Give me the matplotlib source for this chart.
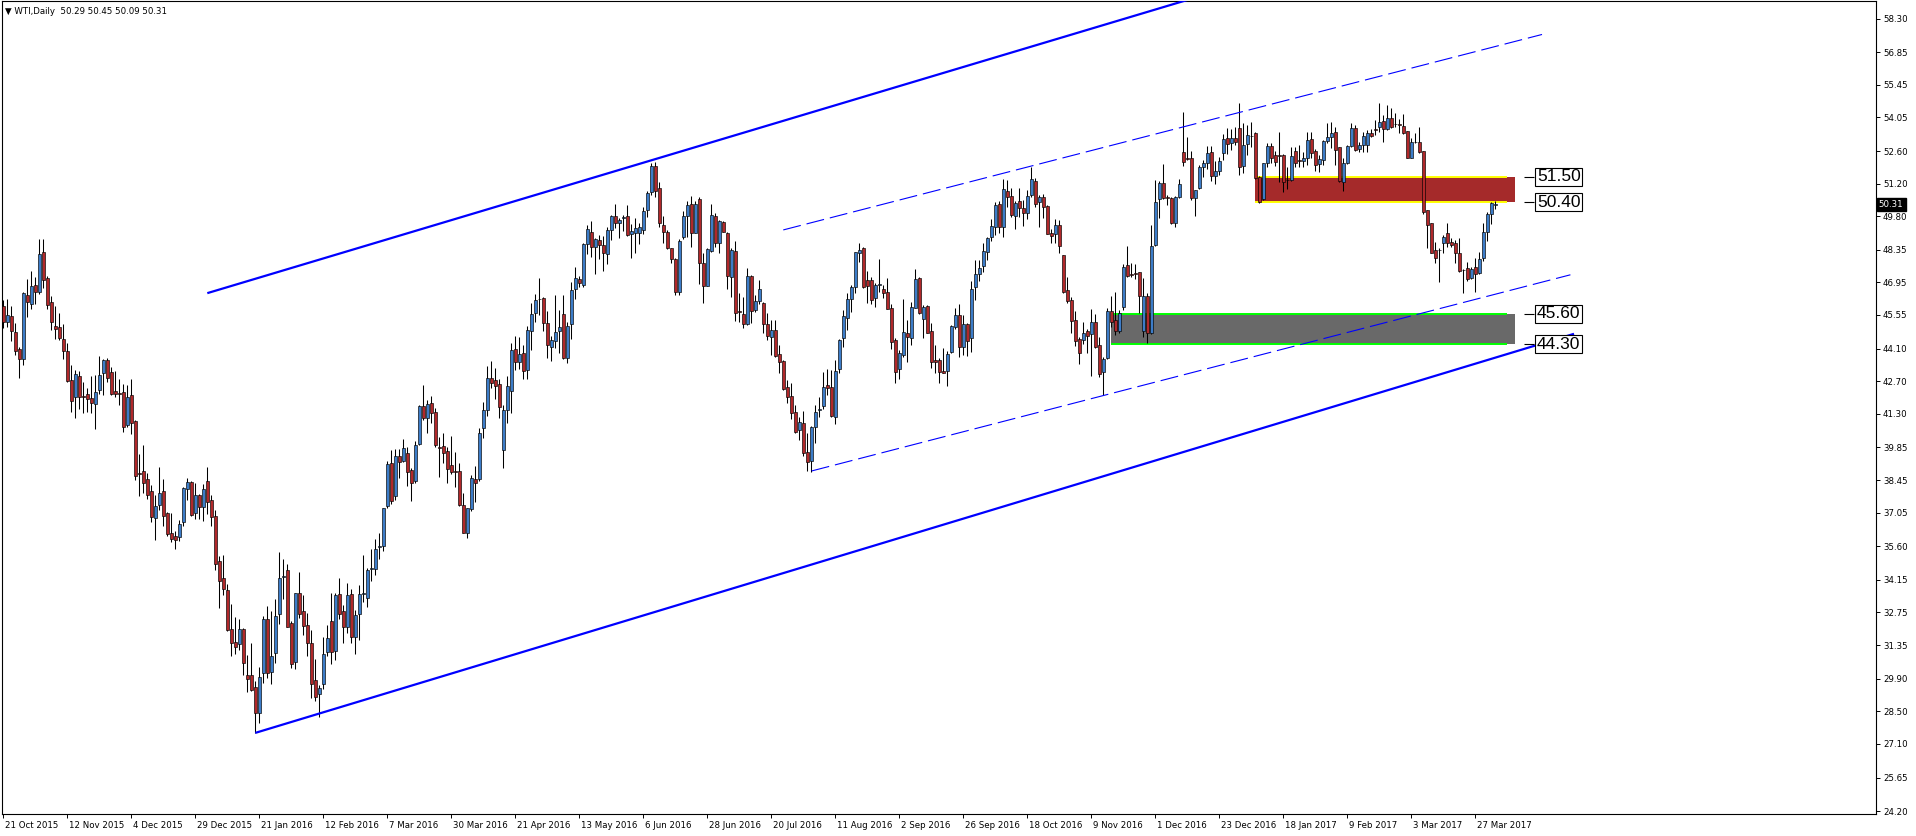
import matplotlib
matplotlib.use("Agg")
import matplotlib.pyplot as plt
import matplotlib.transforms as mtransforms
from matplotlib.patches import Rectangle
import numpy as np

plt.rcParams['font.family'] = ['DejaVu Sans']
plt.rcParams['lines.scale_dashes'] = False

# ---------------- data ----------------
header = "\u25BC WTI,Daily  50.29 50.45 50.09 50.31"

opens = [
    45.94, 45.27, 45.49, 44.83, 44.09, 43.67, 46.41, 46.01, 46.83, 46.56,
    48.26, 47.15, 46.12, 45.08, 45.02, 44.50, 44.01, 42.75, 42.01, 42.93,
    42.06, 42.13, 41.98, 41.72, 42.31, 43.05, 43.60, 43.08, 42.28, 42.19,
    42.24, 40.83, 42.12, 41.00, 38.75, 38.83, 38.50, 37.98, 36.80, 37.38,
    37.97, 37.05, 36.16, 36.04, 36.01, 36.64, 38.06, 38.35, 37.02, 37.79,
    37.27, 38.41, 37.57, 36.90, 34.98, 34.24, 33.72, 32.05, 31.50, 31.39,
    32.05, 30.06, 30.06, 29.54,
    28.44, 30.13, 32.45, 30.20, 30.99, 32.67, 34.26, 34.58, 32.28, 30.63,
    33.57, 32.81, 32.21, 31.42, 29.84, 29.23, 29.66, 31.06, 32.38, 31.10,
    33.54, 32.81, 32.11, 33.54, 31.68, 32.67, 33.53, 33.39, 34.61, 34.61,
    35.55, 35.62, 37.35, 39.19, 37.76, 39.48, 39.28, 39.60, 38.88, 38.42,
    40.00, 41.63, 41.10, 41.78, 41.36, 39.87, 39.91, 39.70, 39.09, 38.82,
    38.84, 37.37, 36.15, 37.19, 38.48, 38.48, 40.67, 41.46, 42.82, 42.75,
    42.58, 39.74, 41.46,
    42.29, 44.07, 43.54, 43.93, 43.18, 44.87, 45.62, 46.22, 46.27, 45.19,
    44.19, 44.45, 44.87, 45.59, 43.69, 45.15, 46.65, 47.08, 46.84, 48.59,
    49.11, 48.46, 48.78, 48.55, 48.16, 49.21, 49.81, 49.52, 49.74, 49.81,
    49.02, 49.06, 49.06, 49.21, 50.07, 50.83, 51.96, 51.00, 49.42, 49.11,
    48.42, 47.94, 46.52, 48.92, 49.82, 50.31, 49.09, 50.53, 47.77, 46.81,
    48.32, 49.81, 48.66, 49.54, 49.06, 47.20, 48.30, 45.72, 45.59, 45.15,
    47.23, 45.77, 46.17,
    46.05, 45.16, 44.62, 44.90, 43.87, 43.57, 42.47, 42.06, 41.36, 40.60,
    40.89, 39.64, 39.28, 40.74, 41.48, 41.65, 42.54, 42.44, 41.17, 43.23,
    44.55, 45.41, 46.22, 46.77, 48.20, 48.42, 47.06, 47.06, 46.27, 46.84,
    46.67, 46.53, 45.84, 44.47, 43.21, 43.83, 44.76, 44.57, 45.86, 47.13,
    45.38, 45.94, 44.86, 43.61, 43.61, 43.15, 43.15, 43.94, 45.05, 45.55,
    44.16, 45.16, 44.55, 46.77, 47.31, 47.67, 48.27, 48.92, 49.32, 50.31,
    49.32, 50.90,
    50.67, 49.81, 50.45, 50.14, 49.95, 50.71, 51.32, 50.40, 50.61, 50.24,
    49.06, 49.02, 49.42, 48.13, 46.62, 46.19, 45.33, 44.52, 44.47, 44.87,
    44.72, 45.24, 44.26, 43.11, 43.68, 45.72, 45.33, 44.87, 45.91, 47.70,
    47.31, 47.36, 47.39, 44.87, 46.37, 44.76, 48.56, 50.53, 51.21, 50.63,
    50.57, 49.52, 50.61, 52.55, 52.31, 52.29, 50.60, 51.00, 51.90, 52.10,
    52.58, 51.54, 51.76, 52.51, 53.15, 52.94, 53.15, 53.58, 51.96, 52.89,
    53.27, 53.40,
    51.47, 50.53, 52.08, 52.82, 52.43, 52.43, 52.43, 51.35, 51.36, 52.61,
    52.20, 52.19, 52.29, 53.11, 52.61, 52.05, 52.22, 53.05, 53.19, 53.41,
    52.76, 51.29, 52.08, 52.82, 53.58, 52.69, 52.87, 52.87, 53.40, 53.55,
    53.62, 53.90, 53.54, 54.01, 53.78, 53.77, 53.68, 53.47, 52.32, 53.01,
    52.98, 52.61, 50.07, 49.49, 48.35, 48.36, 48.63, 49.06, 48.70, 48.63,
    48.23, 47.50, 47.56, 47.13, 47.60, 47.37, 47.99, 49.14, 49.88, 50.29,
]

highs = [
    46.20, 46.23, 45.94, 45.20, 44.19, 46.53, 47.09, 47.45, 47.20, 48.83,
    48.83, 47.24, 46.35, 45.94, 45.64, 45.17, 44.34, 43.39, 43.17, 43.12,
    42.68, 42.43, 42.93, 42.98, 43.79, 43.64, 43.69, 43.30, 43.12, 42.80,
    42.56, 42.53, 42.80, 41.05, 39.57, 39.97, 38.75, 38.24, 37.79, 39.02,
    38.50, 37.08, 37.02, 36.24, 36.71, 38.16, 38.53, 38.41, 38.31, 37.84,
    38.27, 39.02, 37.79, 37.15, 35.20, 35.23, 33.97, 33.13, 32.56, 32.46,
    32.09, 30.91, 31.42, 29.79,
    30.42, 32.60, 33.03, 32.81, 33.32, 35.34, 35.05, 34.82, 32.38, 33.60,
    34.48, 33.50, 32.71, 31.99, 30.73, 29.63, 31.68, 32.21, 33.60, 33.57,
    34.25, 33.07, 34.00, 33.78, 32.86, 33.93, 35.22, 34.68, 35.47, 35.91,
    36.15, 37.26, 39.27, 39.74, 39.77, 39.77, 40.21, 39.86, 38.98, 40.13,
    41.68, 42.54, 41.89, 42.06, 41.53, 40.31, 40.46, 39.86, 40.34, 39.64,
    39.17, 37.90, 37.26, 38.66, 39.05, 40.67, 41.82, 43.36, 43.57, 43.26,
    42.78, 41.68, 42.92,
    44.33, 44.65, 44.62, 44.26, 45.08, 46.05, 46.45, 47.16, 46.31, 45.72,
    44.65, 46.41, 45.76, 46.41, 45.26, 46.96, 47.63, 47.23, 48.63, 49.42,
    49.61, 48.85, 48.99, 48.95, 49.32, 49.85, 50.33, 49.71, 49.85, 50.28,
    49.46, 49.71, 49.49, 50.21, 50.89, 52.08, 52.15, 51.29, 49.81, 49.21,
    48.45, 47.99, 48.82, 50.04, 50.47, 50.67, 50.45, 50.64, 48.20, 48.42,
    50.33, 49.96, 49.64, 49.59, 49.11, 48.42, 48.73, 46.48, 46.34, 47.59,
    47.27, 46.41, 47.06,
    46.12, 45.62, 45.33, 45.33, 44.26, 43.61, 42.75, 42.61, 41.68, 41.17,
    41.42, 40.46, 40.77, 41.68, 42.04, 43.08, 43.22, 43.18, 43.61, 44.50,
    45.76, 46.48, 46.84, 48.27, 48.63, 48.46, 47.44, 47.20, 46.94, 47.96,
    46.84, 47.13, 46.02, 44.55, 44.04, 46.22, 45.33, 46.12, 47.53, 47.17,
    45.98, 45.98, 45.19, 44.26, 43.68, 44.11, 44.01, 45.12, 45.84, 46.02,
    45.55, 45.19, 47.03, 47.92, 47.92, 48.66, 48.92, 49.67, 50.43, 50.47,
    51.39, 51.36,
    51.00, 50.45, 51.00, 50.50, 50.93, 51.93, 51.43, 50.71, 50.74, 50.28,
    49.24, 49.67, 49.64, 48.13, 47.17, 46.34, 45.74, 44.62, 45.26, 44.93,
    45.81, 45.59, 44.59, 43.76, 45.86, 46.38, 46.52, 45.76, 47.74, 48.53,
    47.77, 47.73, 47.41, 47.13, 46.48, 49.42, 51.36, 51.33, 52.05, 50.71,
    50.64, 50.67, 51.39, 54.27, 53.22, 52.62, 50.93, 52.00, 52.22, 52.82,
    52.82, 52.18, 52.36, 53.34, 53.61, 53.54, 53.65, 54.66, 53.82, 53.73,
    53.87, 53.44,
    51.53, 52.10, 52.94, 52.94, 52.61, 53.44, 52.46, 51.93, 52.79, 52.79,
    52.86, 52.58, 53.44, 53.44, 52.68, 52.43, 53.08, 53.82, 53.84, 53.65,
    52.79, 52.29, 52.86, 53.82, 53.73, 53.01, 53.41, 53.51, 53.54, 53.94,
    54.66, 54.16, 54.59, 54.44, 54.26, 53.97, 54.20, 53.48, 53.15, 53.37,
    53.62, 52.61, 50.07, 49.52, 48.71, 48.42, 48.99, 49.52, 48.85, 48.78,
    48.85, 47.51, 47.84, 47.63, 47.99, 48.27, 49.49, 50.00, 50.43, 50.45,
]

lows = [
    44.97, 45.02, 44.43, 43.83, 42.86, 43.38, 45.46, 45.82, 46.01, 46.46,
    46.71, 45.79, 44.90, 44.53, 44.49, 43.64, 42.65, 41.39, 41.12, 41.52,
    41.32, 41.39, 41.35, 40.64, 42.16, 42.12, 42.65, 42.09, 42.01, 41.69,
    40.50, 40.75, 40.43, 38.46, 37.75, 37.87, 37.64, 36.65, 35.87, 37.15,
    36.46, 36.06, 35.79, 35.47, 35.84, 36.46, 37.61, 36.90, 36.79, 36.79,
    36.68, 36.98, 36.46, 34.58, 32.93, 33.50, 31.94, 30.86, 30.95, 31.13,
    30.06, 29.35, 29.38, 27.57,
    28.01, 29.73, 29.94, 29.66, 30.59, 32.24, 33.33, 32.11, 30.37, 30.32,
    32.50, 31.78, 30.88, 29.08, 28.95, 28.27, 29.44, 30.88, 30.52, 30.70,
    32.47, 31.45, 31.85, 31.45, 30.95, 31.56, 33.21, 33.00, 34.12, 34.36,
    35.04, 35.41, 37.26, 37.40, 37.59, 38.52, 39.24, 38.21, 37.56, 38.31,
    39.96, 41.03, 40.49, 40.92, 39.88, 38.59, 39.20, 38.33, 38.69, 38.16,
    37.35, 36.15, 35.97, 37.13, 37.52, 38.41, 40.24, 41.22, 42.42, 41.94,
    41.13, 38.98, 40.92,
    41.35, 43.18, 43.21, 42.80, 42.78, 44.04, 45.26, 45.55, 44.87, 43.71,
    43.58, 44.11, 43.93, 43.66, 43.47, 44.50, 46.22, 46.77, 46.77, 48.16,
    48.06, 47.30, 47.96, 47.46, 47.73, 48.78, 49.28, 48.85, 49.18, 48.95,
    47.99, 48.20, 48.59, 49.03, 49.75, 50.71, 50.64, 49.32, 48.63, 48.38,
    47.77, 46.41, 46.41, 48.81, 48.92, 48.49, 49.09, 46.88, 46.05, 46.81,
    48.27, 48.49, 48.23, 49.11, 46.67, 46.34, 45.29, 45.26, 44.98, 45.12,
    45.19, 45.69, 46.02,
    44.79, 44.47, 43.83, 43.76, 43.04, 42.32, 41.78, 41.06, 40.49, 40.17,
    39.50, 38.84, 38.81, 40.03, 41.17, 41.49, 42.11, 41.17, 40.84, 43.07,
    44.19, 44.90, 45.69, 46.51, 47.84, 46.73, 46.05, 46.02, 45.91, 46.55,
    46.30, 45.79, 44.09, 42.64, 42.80, 43.76, 43.54, 44.26, 45.84, 45.59,
    44.57, 44.76, 43.25, 43.07, 42.64, 43.04, 42.51, 43.90, 44.93, 43.73,
    43.83, 43.79, 43.94, 46.20, 47.03, 47.41, 47.92, 48.75, 48.99, 49.06,
    48.92, 50.21,
    49.78, 49.24, 49.78, 49.38, 49.67, 50.61, 50.21, 49.35, 49.74, 49.03,
    48.63, 48.63, 48.20, 46.48, 46.05, 44.79, 44.22, 43.43, 44.29, 43.90,
    42.94, 44.14, 42.90, 42.11, 43.64, 45.05, 44.69, 44.79, 45.76, 47.17,
    47.17, 47.08, 45.65, 44.62, 44.36, 44.73, 48.52, 49.74, 50.53, 50.28,
    49.47, 49.32, 50.57, 51.96, 52.22, 50.50, 49.82, 50.96, 51.47, 51.83,
    51.33, 51.17, 51.57, 52.22, 52.48, 52.65, 52.86, 51.57, 51.65, 52.43,
    52.79, 51.39,
    50.38, 50.50, 51.90, 52.10, 51.96, 51.29, 50.86, 50.96, 51.33, 51.90,
    51.90, 51.93, 52.00, 52.29, 51.75, 51.72, 52.00, 52.94, 52.72, 52.00,
    51.29, 50.90, 52.05, 52.76, 52.62, 52.58, 52.58, 52.58, 53.22, 53.29,
    53.44, 53.01, 53.51, 53.61, 53.65, 53.37, 53.34, 52.29, 52.29, 52.94,
    52.51, 49.88, 48.42, 48.20, 47.80, 46.98, 48.20, 48.49, 48.49, 47.80,
    47.41, 46.48, 47.01, 47.08, 46.55, 47.31, 47.89, 48.75, 49.47, 50.09,
]

closes = [
    45.27, 45.54, 44.86, 43.98, 43.67, 46.49, 46.09, 46.80, 46.53, 48.16,
    47.05, 45.97, 45.27, 44.93, 44.57, 44.01, 42.71, 41.83, 43.01, 42.01,
    42.01, 41.94, 41.76, 42.24, 42.98, 43.60, 42.83, 42.13, 42.13, 42.16,
    40.75, 42.01, 40.90, 38.61, 38.73, 38.31, 37.79, 36.86, 37.35, 37.90,
    36.90, 36.12, 35.91, 35.87, 36.56, 38.09, 38.35, 36.95, 37.79, 37.27,
    38.06, 37.50, 36.87, 34.83, 34.09, 33.75, 31.99, 31.45, 31.28, 32.05,
    30.58, 29.87, 29.42, 28.43,
    29.96, 32.45, 30.13, 30.88, 32.60, 34.22, 34.32, 32.11, 30.52, 33.57,
    32.67, 32.18, 31.45, 29.66, 29.13, 29.48, 30.95, 31.64, 31.03, 33.50,
    32.68, 32.14, 33.50, 31.68, 32.64, 33.54, 33.57, 34.58, 34.65, 35.47,
    35.60, 37.23, 39.12, 37.56, 39.48, 39.24, 39.81, 38.81, 38.33, 39.96,
    41.63, 41.13, 41.72, 41.35, 39.96, 39.84, 39.62, 38.94, 38.81, 38.79,
    37.37, 36.18, 37.23, 38.52, 38.31, 40.46, 41.46, 42.82, 42.64, 42.51,
    41.60, 41.46, 42.49,
    44.04, 43.54, 43.86, 43.15, 44.90, 45.59, 46.19, 46.25, 45.19, 44.26,
    44.47, 44.80, 45.02, 43.69, 45.08, 46.63, 47.13, 46.91, 48.60, 49.24,
    48.46, 48.80, 48.56, 48.20, 49.21, 49.82, 49.49, 49.64, 49.77, 48.99,
    49.16, 49.28, 49.32, 50.02, 50.81, 51.96, 50.90, 49.49, 49.11, 48.42,
    47.94, 46.52, 48.73, 49.82, 50.27, 49.09, 50.31, 47.80, 46.81, 48.38,
    49.85, 48.66, 49.59, 49.14, 47.23, 48.35, 45.65, 45.69, 45.15, 47.23,
    45.74, 46.17, 46.65,
    45.15, 44.65, 44.90, 43.79, 43.54, 42.36, 42.04, 41.32, 40.53, 40.93,
    39.60, 39.24, 40.72, 41.39, 41.50, 42.47, 42.42, 41.22, 43.15, 44.47,
    45.51, 46.22, 46.77, 48.25, 48.35, 46.77, 46.80, 46.20, 46.84, 46.87,
    46.51, 45.81, 44.40, 43.11, 43.90, 44.83, 44.59, 45.88, 47.08, 45.65,
    45.88, 44.79, 43.54, 43.54, 43.11, 43.07, 43.87, 45.08, 45.55, 44.19,
    45.16, 44.44, 46.65, 47.31, 47.59, 48.30, 48.85, 49.38, 50.28, 49.35,
    50.96, 50.64,
    49.85, 50.35, 50.17, 49.95, 50.68, 51.39, 50.31, 50.61, 50.21, 49.03,
    48.96, 49.42, 48.53, 46.55, 46.17, 45.31, 44.45, 43.90, 44.79, 44.66,
    45.24, 44.16, 43.01, 43.66, 45.72, 45.24, 44.86, 45.62, 47.60, 47.23,
    47.29, 47.33, 46.37, 46.37, 44.76, 48.52, 50.40, 51.21, 50.57, 50.57,
    49.49, 50.64, 51.17, 52.15, 52.28, 50.60, 50.93, 51.90, 52.07, 52.51,
    51.54, 51.75, 52.18, 53.11, 52.89, 53.15, 53.01, 51.90, 52.86, 53.30,
    53.24, 51.43,
    50.40, 52.08, 52.82, 52.29, 52.15, 52.41, 51.29, 51.37, 52.39, 52.08,
    52.17, 52.29, 53.08, 52.53, 52.00, 52.26, 53.04, 53.22, 53.40, 52.65,
    51.33, 52.08, 52.82, 53.58, 52.65, 52.87, 53.25, 53.37, 53.25, 53.52,
    53.84, 53.54, 54.01, 53.62, 53.75, 53.71, 53.37, 52.32, 52.98, 52.98,
    52.58, 50.00, 49.42, 48.23, 47.99, 48.33, 48.89, 48.66, 48.56, 48.23,
    47.46, 47.47, 47.08, 47.53, 47.31, 47.94, 49.14, 49.88, 50.35, 50.31,
]

date_labels = [
    "21 Oct 2015", "12 Nov 2015", "4 Dec 2015", "29 Dec 2015", "21 Jan 2016",
    "12 Feb 2016", "7 Mar 2016", "30 Mar 2016", "21 Apr 2016", "13 May 2016",
    "6 Jun 2016", "28 Jun 2016", "20 Jul 2016", "11 Aug 2016", "2 Sep 2016",
    "26 Sep 2016", "18 Oct 2016", "9 Nov 2016", "1 Dec 2016", "23 Dec 2016",
    "18 Jan 2017", "9 Feb 2017", "3 Mar 2017", "27 Mar 2017",
]
bars_per_label = 16

price_ticks = [58.30, 56.85, 55.45, 54.05, 52.60, 51.20, 49.80, 48.35, 46.95,
               45.55, 44.10, 42.70, 41.30, 39.85, 38.45, 37.05, 35.60, 34.15,
               32.75, 31.35, 29.90, 28.50, 27.10, 25.65, 24.20]
last_price = 50.31

# channel lines: (bar index, price) anchor pairs
upper_main = [(51.0, 46.49), (300.0, 59.31)]
lower_main = [(63.0, 27.57), (392.7, 44.74)]
upper_dash = [(195.0, 49.21), (384.7, 57.62)]
lower_dash = [(202.1, 38.84), (391.8, 47.28)]

# zones: (start bar, end bar, low, high)
resist_zone = (313, 378, 50.40, 51.50)
support_zone = (277, 378, 44.30, 45.60)
zone_levels = [51.50, 50.40, 45.60, 44.30]

# ---------------- styling ----------------
bull_color = '#3C7CC8'
bear_color = '#B0282A'
resist_color = '#A52A2A'
support_color = '#696969'
line_blue = '#0000FF'

W, H = 1916, 836
fig = plt.figure(figsize=(W / 100, H / 100), dpi=100)
ax = fig.add_axes([2 / W, (H - 814) / H, (1876 - 2) / W, (814 - 1) / H])
ax.set_xlim(-0.33, 468.2)
ax.set_ylim(24.08, 59.06)

o = np.array(opens); h = np.array(highs); l = np.array(lows); c = np.array(closes)
n = len(o)
assert len(h) == n and len(l) == n and len(c) == n
x = np.arange(n)

# zones (background)
for (s, e, lo, hi), col, edge in [(resist_zone, resist_color, '#FFFF00'),
                                   (support_zone, support_color, '#00FF00')]:
    ax.add_patch(Rectangle((s, lo), e - s, hi - lo, facecolor=col,
                           edgecolor='none', zorder=1))
    ax.hlines([lo, hi], s, e - 2, colors=edge, linewidth=1.4, zorder=1.5)

# candles
ax.vlines(x, l, h, colors='black', linewidth=0.75, zorder=3)
up = c >= o
dn = ~up
body_lo = np.minimum(o, c)
body_h = np.abs(c - o)
ax.bar(x[up], body_h[up], bottom=body_lo[up], width=0.72, color=bull_color,
       edgecolor='black', linewidth=0.45, zorder=4)
ax.bar(x[dn], body_h[dn], bottom=body_lo[dn], width=0.72, color=bear_color,
       edgecolor='black', linewidth=0.45, zorder=4)

# channel lines
for pts in (upper_main, lower_main):
    ax.plot([pts[0][0], pts[1][0]], [pts[0][1], pts[1][1]], color=line_blue,
            linewidth=1.6, zorder=5, solid_capstyle='butt')
for pts in (upper_dash, lower_dash):
    ax.plot([pts[0][0], pts[1][0]], [pts[0][1], pts[1][1]], color=line_blue,
            linewidth=0.8, zorder=5, dashes=(13, 4.3))

# level labels
for lev in zone_levels:
    ax.hlines(lev, 380.2, 382.8, colors='black', linewidth=0.8, zorder=6)
    ax.text(383.4, lev, f"{lev:.2f}", fontsize=12.5, family=['Liberation Sans', 'DejaVu Sans'],
            ha='left', va='center', zorder=7,
            bbox=dict(boxstyle='square,pad=0.08', facecolor='white',
                      edgecolor='black', linewidth=0.8))

# axes styling
for sp in ax.spines.values():
    sp.set_linewidth(0.8)
    sp.set_color('black')
ax.yaxis.tick_right()
ax.set_yticks(price_ticks)
ax.set_yticklabels([f"{v:.2f}" for v in price_ticks])
ax.tick_params(axis='y', which='both', right=True, left=False, length=3,
               width=0.7, pad=2, labelsize=6.2)

ax.set_xticks([i * bars_per_label for i in range(len(date_labels))])
ax.set_xticklabels(date_labels)
ax.tick_params(axis='x', length=3, width=0.7, pad=2, labelsize=6.2)
off = mtransforms.ScaledTranslation(2 / 100, 0, fig.dpi_scale_trans)
for lab in ax.get_xticklabels():
    lab.set_horizontalalignment('left')
    lab.set_transform(lab.get_transform() + off)

# current price tag on the axis
trans = mtransforms.blended_transform_factory(ax.transAxes, ax.transData)
ax.text(1.0015, last_price, f"{last_price:.2f}", transform=trans, fontsize=6.2,
        color='white', ha='left', va='center', zorder=10, clip_on=False,
        bbox=dict(boxstyle='square,pad=0.25', facecolor='black', edgecolor='black'))

fig.text(5 / W, 1 - 11 / H, header, fontsize=6.2, ha='left', va='center')

fig.savefig('out.png', dpi=100, facecolor='white')
